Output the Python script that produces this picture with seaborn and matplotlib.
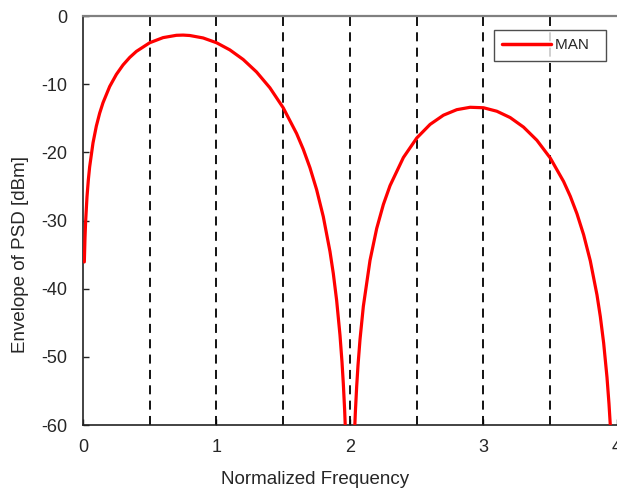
import matplotlib
matplotlib.use("Agg")
import matplotlib.pyplot as plt
import seaborn as sns
import pandas as pd

# Curve samples (normalized frequency, dBm)
freq = [0.01, 0.015, 0.02, 0.03, 0.04, 0.05, 0.075, 0.1, 0.125, 0.15, 0.2, 0.25,
        0.3, 0.35, 0.4, 0.5, 0.6, 0.7, 0.75, 0.8, 0.9, 1.0, 1.1, 1.2, 1.3, 1.4,
        1.5, 1.6, 1.65, 1.7, 1.75, 1.8, 1.85, 1.875, 1.9, 1.925, 1.94, 1.95,
        1.96, 1.97,
        2.03, 2.04, 2.05, 2.06, 2.075, 2.1, 2.15, 2.2, 2.25, 2.3, 2.4, 2.5,
        2.6, 2.7, 2.8, 2.9, 3.0, 3.1, 3.2, 3.3, 3.4, 3.5, 3.6, 3.65, 3.7,
        3.75, 3.8, 3.85, 3.875, 3.9, 3.925, 3.94, 3.95, 3.96]
psd = [-36.08, -32.56, -30.06, -26.54, -24.05, -22.12, -18.62, -16.15, -14.25,
       -12.72, -10.34, -8.57, -7.18, -6.08, -5.19, -3.92, -3.17, -2.83, -2.80,
       -2.86, -3.22, -3.92, -4.97, -6.38, -8.21, -10.53, -13.47, -17.24, -19.55,
       -22.25, -25.47, -29.43, -34.54, -37.77, -41.72, -46.80, -50.73, -53.94,
       -57.85, -62.89,
       -63.15, -58.20, -54.37, -51.25, -47.46, -42.59, -35.84, -31.17, -27.65,
       -24.88, -20.76, -17.90, -15.90, -14.55, -13.74, -13.39, -13.46, -13.97,
       -14.90, -16.30, -18.23, -20.83, -24.28, -26.44, -29.00, -32.09, -35.92,
       -40.91, -44.08, -47.97, -52.99, -56.89, -60.07, -63.96]
series_name = "MAN"
boundaries = [0.5, 1.0, 1.5, 2.0, 2.5, 3.0, 3.5]
x_ticks = [0, 1, 2, 3, 4]
y_ticks = [0, -10, -20, -30, -40, -50, -60]

df = pd.DataFrame({"freq": freq, "psd": psd, "series": series_name})

sns.set_theme(style="ticks")
plt.rcParams["font.family"] = ["Liberation Sans", "DejaVu Sans"]

fig = plt.figure(figsize=(6.17, 4.91), dpi=100)
ax = fig.add_axes([0.1345, 0.1344, 0.8655, 0.8330])

for b in boundaries:
    ax.axvline(b, color="black", linestyle=(0, (5, 3.5)), linewidth=1.3, zorder=1)

sns.lineplot(data=df, x="freq", y="psd", hue="series", palette=["#ff0000"],
             sort=False, estimator=None, linewidth=2.3, ax=ax, zorder=3)

ax.set_xlim(0, 4)
ax.set_ylim(-60, 0)
ax.set_xticks(x_ticks)
ax.set_xticklabels([str(t) for t in x_ticks])
ax.set_yticks(y_ticks)
ax.set_yticklabels([str(t) for t in y_ticks])

ax.tick_params(axis="both", direction="in", length=4, width=1, colors="#222222",
               labelsize=13, labelcolor="#262626")
ax.tick_params(axis="x", pad=10)
ax.tick_params(axis="y", pad=11.5)

ax.set_xlabel("Normalized Frequency", fontsize=13.5, color="#262626")
ax.set_ylabel("Envelope of PSD [dBm]", fontsize=13.5, color="#262626")
ax.xaxis.set_label_coords(0.434, -0.112)
ax.yaxis.set_label_coords(-0.101, 0.418)

ax.spines["right"].set_visible(False)
ax.spines["top"].set_color("#808080")
ax.spines["top"].set_linewidth(1.6)
for s in ["left", "bottom"]:
    ax.spines[s].set_color("#222222")
    ax.spines[s].set_linewidth(1.2)

leg = ax.legend(loc="upper right", bbox_to_anchor=(0.9794, 0.9658), fontsize=11,
                frameon=True, fancybox=False, edgecolor="#222222",
                handlelength=3.2, handletextpad=0.26, borderpad=0.55,
                borderaxespad=0.0, title=None)
leg.get_frame().set_linewidth(1.0)
for line in leg.get_lines():
    line.set_linewidth(2.5)
for t in leg.get_texts():
    t.set_text(series_name + "  ")

fig.savefig("out.png", dpi=100)
